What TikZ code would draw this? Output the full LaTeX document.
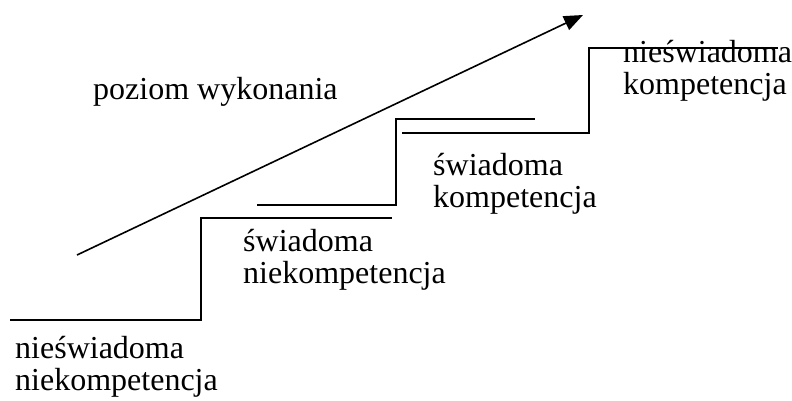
\documentclass[tikz,border=0pt]{standalone}
\usepackage{fontspec}
\setmainfont{Liberation Serif}
\usetikzlibrary{arrows.meta}
\begin{document}
\begin{tikzpicture}[x=1pt,y=-1pt,
  stair/.style={line width=1.6pt,line join=miter},
  lbl/.style={anchor=base west,inner sep=0pt,align=left,font=\fontsize{32}{32}\selectfont}]
\useasboundingbox (0,0) rectangle (792,401);
% staircase
\coordinate (a1) at (10,320);
\coordinate (a2) at (201,320);
\coordinate (a3) at (201,218);
\coordinate (a4) at (392,218);
\coordinate (b1) at (257,205);
\coordinate (b2) at (396,205);
\coordinate (b3) at (396,119);
\coordinate (b4) at (535,119);
\coordinate (c1) at (402,133);
\coordinate (c2) at (589,133);
\coordinate (c3) at (589,48);
\coordinate (c4) at (778,48);
\draw[stair] (a1) -- (a2) -- (a3) -- (a4);
\draw[stair] (b1) -- (b2) -- (b3) -- (b4);
\draw[stair] (c1) -- (c2) -- (c3) -- (c4);
% arrow
\coordinate (s) at (77,255);
\coordinate (t) at (583,15);
\draw[line width=1.6pt,-{Triangle[length=19pt,width=15pt]}] (s) -- (t);
% labels (anchor at baseline of the last line)
\node[lbl] (pw) at (93,100) {poziom wykonania};
\node[lbl] (nn) at (15,390) {nieświadoma\\niekompetencja};
\node[lbl] (sn) at (243,283) {świadoma\\niekompetencja};
\node[lbl] (sk) at (433,207) {świadoma\\kompetencja};
\node[lbl] (nk) at (623,95) {nieświadoma\\kompetencja};
\end{tikzpicture}
\end{document}
